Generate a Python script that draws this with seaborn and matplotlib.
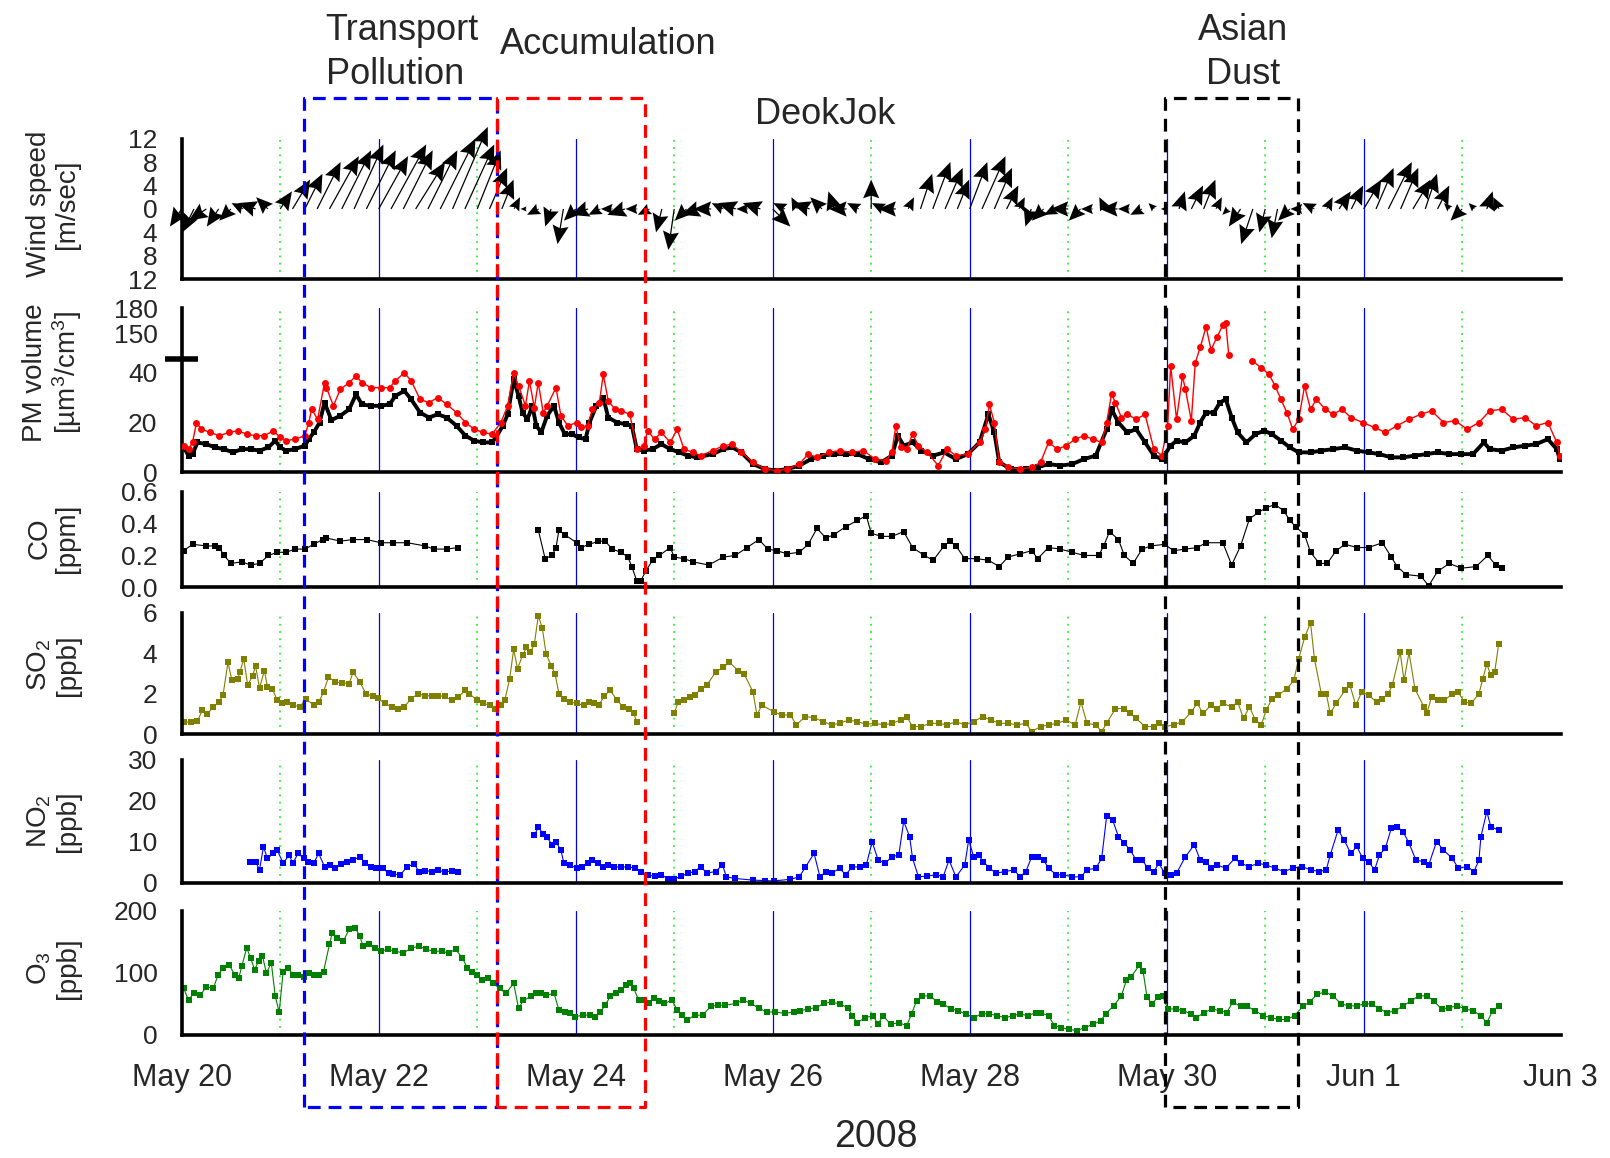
import numpy as np
import pandas as pd
import matplotlib
matplotlib.use("Agg")
import matplotlib.pyplot as plt
import seaborn as sns
from matplotlib.lines import Line2D
from matplotlib import transforms
from matplotlib.ticker import FixedLocator, FixedFormatter

sns.set_theme(style="white")
plt.rcParams['font.family'] = ['Liberation Sans', 'DejaVu Sans']
plt.rcParams['mathtext.fontset'] = 'custom'
plt.rcParams['mathtext.rm'] = 'Liberation Sans'
plt.rcParams['mathtext.it'] = 'Liberation Sans:italic'
plt.rcParams['mathtext.bf'] = 'Liberation Sans:bold'

NAN = np.nan
# ---------------- data (x = days since May 20, 2008 00:00) ----------------
date_ticks = [0, 2, 4, 6, 8, 10, 12, 14]
date_labels = ["May 20", "May 22", "May 24", "May 26", "May 28", "May 30", "Jun 1", "Jun 3"]

# wind, 3-hourly from May 20 00:00
wind_time = np.arange(108) * 0.125
wind_v = [-3, -4, -2, -3, -2, 1, 1, 2,
          3, 5, 6, 8, 9, 10, 11, 10,
          9, 11, 10, 8, 10, 12, 14, 11,
          10, 7, 5, 2, 0, -1, -3, -6,
          -2, -1, -1, 0, -1, 0, -1, -4,
          -7, -2, -1, 0, 1, 1, 0, 1,
          -3, 1, 2, 1, 2, 3, 0, 1,
          5, 1, 0, 2, 6, 8, 7, 5,
          8, 9, 7, 4, 2, -3, -2, -1,
          0, -2, 0, 2, 0, 0, -1, 1,
          0, 3, 4, 5, 2, -1, -3, -6,
          -4, -5, -2, 0, 1, 2, 3, 4,
          5, 7, 8, 7, 5, 6, 4, 1,
          -2, 1, 3, 2]
wind_u = [-2, -2, -3, -2, -2, -2, -3, -2,
          2, 3, 3, 4, 5, 5, 5, 5,
          5, 6, 5, 5, 5, 6, 6, 5,
          4, 3, 2, 1, -1, -2, -1, -1,
          -2, -3, -2, -2, -3, -2, -2, -1,
          -1, -2, -3, -3, -2, -3, -2, -3,
          3, -2, -1, -3, -2, -1, -3, -2,
          0, -2, -3, 1, 2, 3, 3, 2,
          3, 4, 3, 2, 1, -1, -2, -2,
          -3, -2, -2, -1, -3, -2, -2, -1,
          -1, 1, 2, 2, 1, -1, -2, -2,
          -1, -1, -2, -2, -2, 1, 2, 2,
          3, 3, 4, 3, 3, 2, 2, -1,
          -2, -1, 1, -1]

pm_black_day = [0.02, 0.07, 0.11, 0.16, 0.25, 0.34, 0.43, 0.52, 0.61, 0.70, 0.79, 0.88, 0.95, 1.00, 1.06, 1.15,
                1.25, 1.29, 1.34, 1.40, 1.45, 1.52, 1.61, 1.70, 1.77, 1.83, 1.92, 2.02, 2.11, 2.17, 2.26, 2.33,
                2.42, 2.51, 2.60, 2.69, 2.79, 2.88, 2.97, 3.06, 3.15, 3.19, 3.26, 3.31, 3.37, 3.42, 3.46, 3.51,
                3.56, 3.60, 3.65, 3.71, 3.78, 3.83, 3.89, 3.96, 4.03, 4.10, 4.14, 4.21, 4.28, 4.33, 4.42, 4.51,
                4.57, 4.62, 4.69, 4.78, 4.87, 4.96, 5.05, 5.14, 5.23, 5.39, 5.50, 5.59, 5.68, 5.80, 5.92, 6.04,
                6.15, 6.27, 6.39, 6.51, 6.62, 6.74, 6.86, 6.98, 7.10, 7.21, 7.27, 7.33, 7.42, 7.51, 7.63, 7.74,
                7.86, 7.98, 8.10, 8.19, 8.25, 8.30, 8.42, 8.57, 8.69, 8.80, 8.92, 9.04, 9.16, 9.28, 9.39, 9.44,
                9.51, 9.60, 9.69, 9.78, 9.87, 9.95, 10.04, 10.10, 10.19, 10.28, 10.34, 10.40, 10.48, 10.54, 10.60,
                10.66, 10.72, 10.81, 10.90, 10.99, 11.07, 11.16, 11.25, 11.34, 11.46, 11.57, 11.69, 11.81, 11.93,
                12.05, 12.16, 12.28, 12.40, 12.52, 12.64, 12.75, 12.87, 12.99, 13.11, 13.22, 13.28, 13.40, 13.52,
                13.64, 13.75, 13.87, 13.96, 13.99]
pm_black_val = [10, 6.7, 7.3, 12, 11.3, 10, 9.3, 8, 9.3, 9.3, 8.7, 10, 12.7, 10, 8.7, 9.3,
                10.7, 13.3, 16, 20, 28, 21, 22.7, 25.3, 31.3, 27.3, 26.7, 26.7, 27.3, 30.7, 32.7, 29.3,
                24, 22, 23.3, 22, 18.7, 14.7, 12.7, 12, 12, 14, 18.7, 23.3, 37.3, 30.7, 24, 21.3,
                26.7, 18.7, 16, 22.7, 26.7, 20, 15.3, 15.3, 14, 13.3, 20, 26.7, 30, 22, 20, 19.3,
                18.7, 9.3, 8.7, 9.3, 11.3, 9.3, 8, 6.7, 6, 7.3, 9.3, 10, 8, 3.3, 1.3, 0.7,
                1.3, 2.7, 5.3, 6.7, 7.3, 7.3, 7.3, 5.3, 4, 6.7, 14.7, 10.7, 12, 8.7, 6.7, 8,
                5.3, 7.3, 12, 23.3, 16, 4, 1.3, 1.3, 2, 3.3, 2.7, 3.3, 5.3, 6.7, 17.3, 25.3,
                20, 16, 17.3, 12, 6.7, 5.3, 10.7, 12.7, 12, 14.7, 20, 24, 24, 28, 29.3,
                22, 16, 12, 15.3, 16.7, 15.3, 12.7, 10, 8, 8, 8.7, 9.3, 10, 8.7,
                8, 7.3, 6, 6, 6.7, 7.3, 8, 7.3, 7.3, 7.3, 12, 9.3, 8.7, 10,
                10.7, 11.3, 13.3, 9.3, 5.3]

pm_red_day = [0.02, 0.07, 0.11, 0.15, 0.20, 0.29, 0.38, 0.48, 0.57, 0.66, 0.75, 0.84, 0.93, 1.00, 1.06, 1.15,
              1.25, 1.29, 1.32, 1.38, 1.45, 1.47, 1.54, 1.61, 1.70, 1.77, 1.83, 1.92, 2.02, 2.11, 2.17, 2.26,
              2.33, 2.42, 2.51, 2.60, 2.69, 2.79, 2.88, 2.97, 3.06, 3.15, 3.24, 3.31, 3.37, 3.42, 3.49, 3.53,
              3.58, 3.62, 3.67, 3.71, 3.80, 3.85, 3.92, 4.01, 4.05, 4.12, 4.17, 4.24, 4.28, 4.33, 4.40, 4.46,
              4.55, 4.62, 4.69, 4.73, 4.80, 4.87, 4.96, 5.03, 5.10, 5.19, 5.27, 5.39, 5.50, 5.59, 5.68, 5.80,
              5.92, 6.04, 6.15, 6.27, 6.36, 6.45, 6.57, 6.68, 6.80, 6.92, 7.04, 7.15, 7.21, 7.25, 7.30, 7.36,
              7.42, 7.48, 7.57, 7.68, 7.77, 7.86, 7.98, 8.10, 8.16, 8.20, 8.25, 8.30, 8.39, 8.51, 8.63, 8.72,
              8.80, 8.89, 8.98, 9.07, 9.16, 9.25, 9.34, 9.39, 9.44, 9.48, 9.54, 9.60, 9.69, 9.78, 9.87, 9.95,
              10.01, 10.04, 10.10, 10.16, 10.19, 10.25, 10.29, 10.34, 10.40, 10.45, 10.51, 10.57, 10.60, 10.63,
              NAN, 10.87, 10.96, 11.04, 11.10, 11.16, 11.22, 11.28, 11.34, 11.40, 11.46, 11.52, 11.61, 11.69,
              11.78, 11.87, 11.99, 12.11, 12.22, 12.34, 12.46, 12.58, 12.69, 12.81, 12.93, 13.05, 13.17, 13.28,
              13.40, 13.52, 13.64, 13.75, 13.87, 13.96, 13.99]
pm_red_val = [10.7, 9.3, 12, 20, 17.3, 16, 14.7, 16, 16.7, 15.3, 14.7, 14.7, 16.7, 14, 12.7, 13.3,
              14.7, 20, 25.3, 21.3, 36, 34, 26.7, 33.3, 36, 38.7, 36, 34, 34, 34, 36.7, 40,
              36.7, 29.3, 28, 30, 27.3, 24, 20, 17.3, 16, 15.3, 20, 26.7, 40, 34.7, 26.7, 36.7,
              26, 36, 24, 26.7, 34, 22.7, 18.7, 20, 18, 18.7, 25.3, 28, 39.3, 28.7, 25.3, 24.7,
              23.3, 9.3, 10.7, 16.7, 13.3, 16, 12, 17.3, 9.3, 8, 6.7, 8.7, 10.7, 11.3, 8, 4,
              1.3, 0.7, 1.3, 3.3, 7.3, 6, 8, 8.7, 8, 8.7, 5.3, 4.7, 8, 18.7, 10, 9.3,
              15.3, 10.7, 8, 2.7, 9.3, 6.7, 7.3, 12, 17.3, 27.3, 20, 4, 2, 1.3, 2, 4,
              12, 9.3, 10.7, 13.3, 14.7, 13.3, 12, 20, 31.3, 28, 22, 23.3, 21.3, 23.3, 9.3, 6.7,
              18.7, 42.7, 21.3, 38.7, 33.3, 20.7, 44, 134, 158, 131, 146, 160, 162, 125,
              NAN, 44.7, 42, 39.3, 34.7, 29.3, 24, 17.3, 21.3, 34.7, 25.3, 29.3, 25.3, 23.3,
              25.3, 22, 20, 18, 16, 18.7, 21.3, 23.3, 24.7, 20, 20.7, 17.3, 20, 24.7,
              25.3, 21.3, 22, 18.7, 20, 12, 6.7]

co_day = [0.02, 0.11, 0.25, 0.34, 0.38, 0.43, 0.50, 0.61, 0.70, 0.79, 0.88, 0.97, 1.06, 1.15, 1.25, 1.34,
          1.43, 1.47, 1.61, 1.74, 1.88, 2.02, 2.15, 2.29, 2.47, 2.56, 2.69, 2.81, NAN,
          3.62, 3.69, 3.76, 3.80, 3.83, 3.89, 4.01, 4.05, 4.14, 4.23, 4.30, 4.37, 4.46, 4.53, 4.57, 4.62,
          4.66, 4.71, 4.78, 4.85, 4.96, 5.00, 5.10, 5.19, 5.35, 5.50, 5.62, 5.74, 5.86, 5.95, 6.04, 6.15,
          6.27, 6.36, 6.45, 6.54, 6.62, 6.74, 6.86, 6.95, 7.00, 7.10, 7.21, 7.33, 7.42, 7.54, 7.63, 7.74,
          7.80, 7.86, 7.95, 8.07, 8.19, 8.30, 8.39, 8.51, 8.63, 8.69, 8.80, 8.92, 9.04, 9.16, 9.31, 9.36,
          9.42, 9.51, 9.57, 9.66, 9.75, 9.84, 9.98, 10.07, 10.19, 10.31, 10.40, 10.57, 10.66, 10.75, 10.84,
          10.93, 11.01, 11.10, 11.19, 11.25, 11.31, 11.40, 11.46, 11.55, 11.63, 11.72, 11.81, 11.93, 12.05,
          12.19, 12.28, 12.34, 12.43, 12.58, 12.66, 12.75, 12.87, 12.99, 13.14, 13.26, 13.34, 13.40]
co_val = [0.23, 0.27, 0.26, 0.26, 0.25, 0.20, 0.15, 0.16, 0.14, 0.15, 0.20, 0.22, 0.22, 0.24, 0.24, 0.27,
          0.30, 0.31, 0.29, 0.30, 0.30, 0.28, 0.28, 0.28, 0.26, 0.24, 0.24, 0.25, NAN,
          0.36, 0.18, 0.20, 0.25, 0.36, 0.33, 0.28, 0.25, 0.27, 0.29, 0.29, 0.24, 0.22, 0.19, 0.13, 0.04,
          0.04, 0.10, 0.17, 0.20, 0.25, 0.19, 0.18, 0.16, 0.14, 0.19, 0.20, 0.25, 0.30, 0.24, 0.23, 0.21,
          0.22, 0.27, 0.37, 0.31, 0.33, 0.38, 0.42, 0.45, 0.34, 0.32, 0.32, 0.35, 0.25, 0.20, 0.17, 0.26,
          0.29, 0.26, 0.18, 0.18, 0.17, 0.13, 0.19, 0.21, 0.23, 0.18, 0.25, 0.24, 0.22, 0.20, 0.20, 0.26,
          0.35, 0.30, 0.20, 0.15, 0.24, 0.26, 0.27, 0.23, 0.24, 0.25, 0.28, 0.28, 0.14, 0.26, 0.43,
          0.47, 0.50, 0.52, 0.48, 0.42, 0.38, 0.33, 0.22, 0.15, 0.15, 0.23, 0.27, 0.25, 0.25,
          0.28, 0.19, 0.13, 0.08, 0.07, 0.01, 0.10, 0.15, 0.12, 0.13, 0.20, 0.14, 0.12]

so2_day = [0.02, 0.09, 0.16, 0.21, 0.26, 0.32, 0.38, 0.42, 0.47, 0.51, 0.57, 0.59, 0.63, 0.67, 0.72, 0.75,
           0.79, 0.84, 0.87, 0.92, 0.97, 1.02, 1.07, 1.13, 1.20, 1.26, 1.34, 1.39, 1.44, 1.49, 1.56, 1.63,
           1.70, 1.74, 1.81, 1.87, 1.94, 1.99, 2.06, 2.13, 2.20, 2.26, 2.33, 2.40, 2.47, 2.54, 2.60, 2.67,
           2.74, 2.81, 2.88, 2.92, 3.00, 3.06, 3.13, 3.18, 3.24, 3.28, 3.33, 3.37, 3.41, 3.46, 3.50, 3.54,
           3.58, 3.62, 3.66, 3.70, 3.75, 3.79, 3.83, 3.88, 3.94, 4.01, 4.08, 4.13, 4.19, 4.24, 4.29, 4.35,
           4.42, 4.48, 4.54, 4.59, 4.62, NAN,
           5.00, 5.04, 5.10, 5.16, 5.21, 5.27, 5.33, 5.42, 5.50, 5.56, 5.65, 5.71, 5.80, 5.84, 5.89, 6.01,
           6.09, 6.18, 6.24, 6.33, 6.42, 6.51, 6.60, 6.68, 6.77, 6.86, 6.95, 7.04, 7.13, 7.21, 7.30, 7.36,
           7.42, 7.51, 7.60, 7.69, 7.77, 7.86, 7.95, 8.04, 8.13, 8.22, 8.30, 8.39, 8.48, 8.57, 8.63, 8.72,
           8.80, 8.89, 8.98, 9.07, 9.13, 9.19, 9.28, 9.34, 9.39, 9.48, 9.57, 9.63, 9.69, 9.78, 9.87, 9.92,
           9.98, 10.07, 10.16, 10.25, 10.31, 10.37, 10.45, 10.51, 10.57, 10.66, 10.72, 10.78, 10.84, 10.90,
           10.96, 11.01, 11.07, 11.13, 11.22, 11.29, 11.34, 11.40, 11.46, 11.50, 11.57, 11.62, 11.66, 11.72,
           11.81, 11.86, 11.92, 11.98, 12.05, 12.13, 12.19, 12.25, 12.29, 12.37, 12.41, 12.46, 12.52, 12.61,
           12.64, 12.69, 12.75, 12.82, 12.90, 12.96, 13.02, 13.09, 13.17, 13.21, 13.25, 13.29, 13.33, 13.37]
so2_val = [0.6, 0.6, 0.65, 1.2, 1.0, 1.35, 1.6, 1.96, 3.56, 2.66, 2.75, 3.07, 3.73, 2.42, 2.9, 3.37,
           2.29, 3.15, 2.34, 2.25, 1.68, 1.52, 1.6, 1.44, 1.36, 1.76, 1.44, 1.57, 2.09, 2.83, 2.58, 2.55,
           2.5, 3.07, 2.58, 2.0, 1.88, 1.8, 1.52, 1.36, 1.27, 1.36, 1.76, 2.0, 1.9, 1.9, 1.9, 1.88,
           1.68, 1.85, 2.17, 2.0, 1.68, 1.52, 1.44, 1.27, 1.44, 1.68, 2.75, 4.2, 3.24, 3.9, 4.3, 4.05,
           4.46, 5.85, 5.28, 3.97, 3.4, 2.99, 2.0, 1.73, 1.6, 1.52, 1.44, 1.6, 1.52, 1.47, 1.9, 2.17,
           1.68, 1.36, 1.27, 1.03, 0.59, NAN,
           1.03, 1.6, 1.68, 1.85, 1.93, 2.25, 2.42, 3.07, 3.32, 3.56, 3.15, 2.99, 2.09, 0.95, 1.44, 1.11,
           0.95, 0.95, 0.46, 0.87, 0.82, 0.62, 0.46, 0.54, 0.70, 0.62, 0.49, 0.54, 0.46, 0.54, 0.70, 0.87,
           0.38, 0.38, 0.54, 0.54, 0.46, 0.62, 0.46, 0.62, 0.87, 0.70, 0.54, 0.54, 0.46, 0.54, 0.13, 0.38,
           0.46, 0.54, 0.70, 0.46, 1.60, 0.54, 0.46, 0.13, 0.54, 1.27, 1.27, 1.03, 0.78, 0.38, 0.38, 0.54,
           0.38, 0.46, 0.62, 1.11, 1.52, 1.03, 1.44, 1.27, 1.52, 1.36, 1.60, 0.78, 1.36, 0.70,
           0.46, 1.19, 1.76, 1.93, 2.25, 2.66, 3.73, 4.79, 5.52, 3.73, 2.0, 2.0, 1.03, 1.52,
           2.17, 2.42, 1.44, 2.09, 1.93, 1.60, 1.76, 2.0, 2.42, 4.05, 2.66, 4.05, 2.25, 1.36,
           1.03, 1.85, 1.68, 1.68, 2.0, 2.09, 1.60, 1.52, 2.0, 2.75, 3.48, 2.91, 3.07, 4.46]

no2_day = [0.69, 0.75, 0.79, 0.83, 0.87, 0.93, 0.97, 1.03, 1.09, 1.13, 1.18, 1.24, 1.28, 1.34, 1.39, 1.45,
           1.51, 1.56, 1.62, 1.68, 1.74, 1.81, 1.86, 1.92, 1.97, 2.04, 2.10, 2.15, 2.22, 2.29, 2.36, 2.41,
           2.47, 2.54, 2.60, 2.67, 2.74, 2.81, NAN,
           3.58, 3.62, 3.67, 3.71, 3.76, 3.80, 3.85, 3.88, 3.94, 4.01, 4.06, 4.12, 4.17, 4.23, 4.28, 4.33,
           4.39, 4.46, 4.53, 4.60, 4.66, 4.73, 4.80, 4.87, 4.94, 5.00, 5.07, 5.14, 5.21, 5.27, 5.33, 5.42,
           5.49, 5.53, 5.62, 5.80, 5.92, 6.01, 6.18, 6.27, 6.33, 6.42, 6.48, 6.54, 6.60, 6.68, 6.74, 6.81,
           6.89, 6.95, 7.01, 7.07, 7.14, 7.21, 7.28, 7.33, 7.39, 7.42, 7.48, 7.57, 7.66, 7.73, 7.79, 7.86,
           7.95, 7.99, 8.04, 8.09, 8.14, 8.20, 8.27, 8.36, 8.45, 8.51, 8.57, 8.63, 8.69, 8.75, 8.80, 8.88,
           8.95, 9.04, 9.13, 9.19, 9.28, 9.34, 9.39, 9.45, 9.51, 9.57, 9.63, 9.69, 9.75, 9.81, 9.87, 9.92,
           9.98, 10.04, 10.10, 10.19, 10.28, 10.34, 10.40, 10.45, 10.51, 10.60, 10.69, 10.75, 10.84, 10.93,
           11.01, 11.10, 11.19, 11.28, 11.37, 11.46, 11.55, 11.62, 11.66, 11.74, 11.80, 11.87, 11.93, 11.99,
           12.05, 12.11, 12.16, 12.22, 12.28, 12.34, 12.40, 12.46, 12.53, 12.61, 12.66, 12.74, 12.81, 12.90,
           12.96, 13.05, 13.12, 13.17, 13.19, 13.25, 13.29, 13.37]
no2_val = [5.2, 5.2, 3.2, 8.8, 6.0, 7.2, 8.0, 4.8, 6.8, 4.8, 7.2, 6.0, 5.2, 4.8, 7.2, 4.0,
           4.4, 3.6, 4.6, 5.2, 5.6, 6.4, 4.8, 4.0, 3.6, 3.6, 2.4, 2.2, 2.0, 4.0, 4.6, 2.8,
           3.0, 2.8, 3.2, 2.6, 3.0, 2.6, NAN,
           11.6, 13.6, 12.0, 11.2, 9.2, 10.0, 8.0, 4.8, 4.4, 3.6, 4.0, 4.8, 5.6, 4.8, 4.0, 4.4,
           4.0, 3.8, 4.0, 3.6, 2.8, 2.0, 1.6, 2.0, 1.0, 1.0, 1.6, 2.4, 2.8, 4.0, 2.4, 2.8,
           4.4, 1.5, 1.1, 0.7, 0.6, 0.5, 0.9, 1.5, 3.8, 7.2, 1.5, 2.8, 2.4, 3.6, 2.0, 4.0,
           3.8, 4.4, 10.0, 5.6, 4.8, 6.4, 6.8, 15.0, 11.3, 6.0, 1.5, 1.7, 2.0, 1.5, 5.6, 1.5,
           4.4, 10.5, 6.4, 6.8, 5.2, 3.6, 2.4, 2.8, 3.2, 1.5, 2.8, 6.4, 6.4, 5.6, 3.6, 2.0,
           2.0, 1.5, 1.5, 3.2, 3.6, 6.0, 16.2, 15.4, 11.3, 9.7, 8.0, 5.6, 5.6, 3.6, 2.8, 4.8,
           2.4, 2.0, 2.4, 6.4, 9.3, 5.6, 5.2, 3.6, 4.4, 3.6, 6.0, 4.8, 4.0, 4.8,
           4.4, 3.6, 2.8, 3.6, 4.0, 3.2, 2.8, 3.2, 6.8, 12.9, 10.5, 7.2, 8.9, 6.0,
           5.2, 3.2, 6.8, 8.5, 13.3, 13.7, 12.5, 9.7, 5.6, 5.2, 4.4, 10.1, 8.0, 6.0,
           3.6, 4.0, 2.8, 5.6, 11.3, 17.4, 13.7, 12.9]

o3_day = [0.02, 0.07, 0.12, 0.19, 0.25, 0.32, 0.37, 0.42, 0.48, 0.54, 0.58, 0.61, 0.66, 0.70, 0.74, 0.78,
          0.82, 0.86, 0.91, 0.95, 0.99, 1.03, 1.08, 1.13, 1.18, 1.24, 1.29, 1.34, 1.39, 1.44, 1.50, 1.53,
          1.58, 1.64, 1.70, 1.76, 1.81, 1.84, 1.90, 1.96, 2.02, 2.09, 2.17, 2.25, 2.33, 2.41, 2.48, 2.56,
          2.64, 2.71, 2.78, 2.85, 2.90, 2.95, 3.00, 3.05, 3.11, 3.16, 3.23, 3.29, 3.37, 3.42, 3.47, 3.55,
          3.60, 3.65, 3.70, 3.78, 3.83, 3.89, 3.94, 3.99, 4.07, 4.15, 4.20, 4.25, 4.30, 4.35, 4.41, 4.46,
          4.51, 4.55, 4.59, 4.64, 4.69, 4.74, 4.79, 4.85, 4.90, 4.98, 5.03, 5.08, 5.13, 5.21, 5.29, 5.37,
          5.44, 5.52, 5.63, 5.70, 5.78, 5.86, 5.94, 6.02, 6.12, 6.22, 6.28, 6.36, 6.44, 6.52, 6.60, 6.68,
          6.76, 6.81, 6.86, 6.94, 7.02, 7.07, 7.12, 7.20, 7.28, 7.36, 7.41, 7.46, 7.52, 7.60, 7.67, 7.73,
          7.81, 7.88, 7.96, 8.04, 8.12, 8.20, 8.28, 8.36, 8.44, 8.51, 8.59, 8.67, 8.72, 8.80, 8.86, 8.93,
          9.01, 9.09, 9.17, 9.25, 9.33, 9.38, 9.46, 9.54, 9.59, 9.64, 9.72, 9.76, 9.80, 9.85, 9.91, 9.96,
          10.01, 10.09, 10.17, 10.25, 10.30, 10.38, 10.46, 10.54, 10.61, 10.67, 10.75, 10.82, 10.90, 10.98,
          11.06, 11.14, 11.22, 11.30, 11.38, 11.45, 11.53, 11.61, 11.69, 11.77, 11.85, 11.93, 12.01, 12.08,
          12.16, 12.24, 12.32, 12.40, 12.48, 12.56, 12.64, 12.71, 12.79, 12.87, 12.95, 13.03, 13.11, 13.19,
          13.25, 13.31, 13.37]
o3_val = [75, 56, 67, 64, 78, 75, 97, 108, 113, 97, 92, 111, 140, 124, 105, 119,
          127, 100, 116, 62, 37, 102, 108, 97, 97, 94, 100, 97, 97, 102, 146, 165,
          157, 151, 170, 173, 159, 143, 146, 140, 135, 138, 135, 132, 140, 143, 138, 135,
          135, 132, 138, 124, 108, 102, 97, 89, 92, 83, 75, 67, 83, 43, 56, 62,
          67, 68, 64, 67, 40, 37, 35, 29, 32, 32, 29, 37, 48, 62, 67, 73,
          81, 83, 75, 56, 56, 51, 59, 54, 51, 56, 40, 32, 24, 32, 32, 46,
          48, 48, 51, 56, 51, 43, 37, 37, 35, 37, 39, 42, 44, 51, 53, 50,
          44, 31, 20, 28, 31, 17, 31, 17, 20, 15, 34, 55, 63, 63, 53, 50,
          42, 39, 34, 28, 34, 34, 31, 28, 31, 34, 31, 36, 36, 31, 15, 12,
          9, 7, 12, 17, 23, 34, 47, 63, 88, 94, 112, 103, 61, 50, 61, 63,
          42, 42, 39, 34, 28, 36, 42, 39, 36, 53, 46, 46, 39, 31,
          28, 25, 25, 31, 46, 53, 66, 69, 63, 50, 47, 47, 50, 50,
          42, 36, 39, 47, 55, 63, 63, 55, 42, 44, 47, 42, 39, 31,
          20, 39, 47]

# event periods (days since May 20)
transport_period = (1.24, 3.20)
accumulation_period = (3.20, 4.70)
dust_period = (9.98, 11.33)

# ---------------- figure ----------------
W, H = 1610, 1158
fig = plt.figure(figsize=(W / 100, H / 100), dpi=100)

left_px, right_px = 181.7, 1560.7
panels_px = {  # top, bottom in pixels
    'wind': (138.6, 279.3), 'pm': (308.0, 472.3), 'co': (491.8, 587.3),
    'so2': (613.0, 734.2), 'no2': (759.8, 883.0), 'o3': (910.8, 1035.0)}


def make_ax(key):
    t, b = panels_px[key]
    return fig.add_axes([left_px / W, 1 - b / H, (right_px - left_px) / W, (b - t) / H])


axes = {k: make_ax(k) for k in panels_px}

TICK_FS = 19


def style_ax(ax, bottom=False):
    sns.despine(ax=ax, top=True, right=True)
    for s in ['left', 'bottom']:
        ax.spines[s].set_linewidth(2.6)
        ax.spines[s].set_color('black')
    ax.set_xlim(0, 14)
    ax.set_xticks(date_ticks)
    ax.set_xticks(list(range(1, 14, 2)), minor=True)
    ax.tick_params(axis='x', which='major', direction='out', length=11.5, width=2.2, color='black')
    ax.tick_params(axis='x', which='minor', direction='out', length=6, width=2.2, color='black')
    ax.tick_params(axis='y', which='major', direction='out', length=11.5, width=2.0, color='black',
                   labelsize=TICK_FS, pad=6)
    ax.tick_params(axis='y', which='minor', direction='out', length=6, width=2.0, color='black')
    if bottom:
        ax.set_xticklabels(date_labels, fontsize=22)
        ax.tick_params(axis='x', which='major', pad=9)
    else:
        ax.set_xticklabels([])
    ax.set_xlabel('')
    ax.set_ylabel('')
    ax.patch.set_alpha(0)
    for d in range(1, 14):
        if d % 2 == 0:
            ax.axvline(d, color='#0000ff', lw=0.9, zorder=0)
        else:
            ax.axvline(d, color='#33ee33', lw=1.3, ls=(0, (1, 3)), zorder=0)


def plot_series(ax, days, vals, color, marker, ms, lw, z=2):
    df = pd.DataFrame({'day': days, 'val': vals})
    ok = df['val'].notna()
    seg = (~ok).cumsum()
    for _, g in df[ok].groupby(seg[ok]):
        sns.lineplot(data=g, x='day', y='val', ax=ax, color=color, marker=marker, markersize=ms,
                     markeredgewidth=0, linewidth=lw, estimator=None, sort=False, legend=False,
                     zorder=z)


# ---- wind ----
ax = axes['wind']
kx = 0.0596  # days per m/s on the horizontal
ax.quiver(wind_time, np.zeros(len(wind_time)), np.array(wind_u) * kx, np.array(wind_v),
          angles='xy', scale_units='xy', scale=1, width=0.0009, headwidth=13, headlength=15,
          headaxislength=13, color='black', clip_on=False, zorder=3)
ax.set_ylim(-12, 12)
ax.yaxis.set_major_locator(FixedLocator([-12, -8, -4, 0, 4, 8, 12]))
ax.yaxis.set_major_formatter(FixedFormatter(['12', '8', '4', '0', '4', '8', '12']))
ax.yaxis.set_minor_locator(FixedLocator([-10, -6, -2, 2, 6, 10]))
style_ax(ax)

# ---- PM (broken axis) ----
ax = axes['pm']
bk_in = [-100, 0, 45, 120, 180, 400]
bk_out = [-242.5, 0, 109.1, 110.0, 160.0, 343.3]


def fwd(y):
    return np.interp(y, bk_in, bk_out)


def inv(y):
    return np.interp(y, bk_out, bk_in)


ax.set_yscale('function', functions=(fwd, inv))
plot_series(ax, pm_black_day, pm_black_val, 'black', 's', 5, 2.8, z=2)
plot_series(ax, pm_red_day, pm_red_val, '#ff0000', 'o', 5, 1.0, z=3)
ax.set_ylim(0, 180)
ax.yaxis.set_major_locator(FixedLocator([0, 20, 40, 150, 180]))
ax.yaxis.set_major_formatter(FixedFormatter(['0', '20', '40', '150', '180']))
ax.yaxis.set_minor_locator(FixedLocator([10, 30, 135, 165]))
style_ax(ax)
ax.add_line(Line2D([-0.012, 0.012], [0.69, 0.69], transform=ax.transAxes, color='black', lw=4,
                   clip_on=False, solid_capstyle='butt', zorder=5))

# ---- CO ----
ax = axes['co']
plot_series(ax, co_day, co_val, 'black', 's', 4.5, 0.8)
ax.set_ylim(0, 0.6)
ax.yaxis.set_major_locator(FixedLocator([0, 0.2, 0.4, 0.6]))
ax.yaxis.set_major_formatter(FixedFormatter(['0.0', '0.2', '0.4', '0.6']))
ax.yaxis.set_minor_locator(FixedLocator([0.1, 0.3, 0.5]))
style_ax(ax)

# ---- SO2 ----
ax = axes['so2']
plot_series(ax, so2_day, so2_val, '#808000', 's', 4.5, 0.8)
ax.set_ylim(0, 6)
ax.yaxis.set_major_locator(FixedLocator([0, 2, 4, 6]))
ax.yaxis.set_major_formatter(FixedFormatter(['0', '2', '4', '6']))
ax.yaxis.set_minor_locator(FixedLocator([1, 3, 5]))
style_ax(ax)

# ---- NO2 ----
ax = axes['no2']
plot_series(ax, no2_day, no2_val, '#0000ff', 's', 4.5, 0.8)
ax.set_ylim(0, 30)
ax.yaxis.set_major_locator(FixedLocator([0, 10, 20, 30]))
ax.yaxis.set_major_formatter(FixedFormatter(['0', '10', '20', '30']))
ax.yaxis.set_minor_locator(FixedLocator([5, 15, 25]))
style_ax(ax)

# ---- O3 ----
ax = axes['o3']
plot_series(ax, o3_day, o3_val, '#008000', 's', 4.5, 0.8)
ax.set_ylim(0, 200)
ax.yaxis.set_major_locator(FixedLocator([0, 100, 200]))
ax.yaxis.set_major_formatter(FixedFormatter(['0', '100', '200']))
ax.yaxis.set_minor_locator(FixedLocator([50, 150]))
style_ax(ax, bottom=True)

# ---- y labels ----
ylabels = [('Wind speed\n[m/sec]', 0.8238), ('PM volume\n[µm$^3$/cm$^3$]', 0.678),
           ('CO\n[ppm]', 0.535), ('SO$_2$\n[ppb]', 0.4256), ('NO$_2$\n[ppb]', 0.2907),
           ('O$_3$\n[ppb]', 0.164)]
for txt, yc in ylabels:
    fig.text(0.033, yc, txt, rotation=90, ha='center', va='center', fontsize=20,
             multialignment='center', linespacing=1.1)

# ---- event boxes ----
trans = transforms.blended_transform_factory(axes['o3'].transData, fig.transFigure)
y_top, y_bot = 1 - 97.5 / H, 1 - 1107 / H


def box(period, color):
    x0, x1 = period
    fig.add_artist(Line2D([x0, x0, x1, x1, x0], [y_bot, y_top, y_top, y_bot, y_bot], transform=trans,
                          color=color, lw=2.3, ls=(0, (4, 2.5)), zorder=10))


box(transport_period, '#0000ff')
box(accumulation_period, '#ff0000')
box(dust_period, 'black')

# ---- annotations ----
fig.text(325.5 / W, 1 - 31 / H, 'Transport', fontsize=26, ha='left', va='center')
fig.text(325.5 / W, 1 - 74 / H, 'Pollution', fontsize=26, ha='left', va='center')
fig.text(500 / W, 1 - 44 / H, 'Accumulation', fontsize=26, ha='left', va='center')
fig.text(825.5 / W, 1 - 114 / H, 'DeokJok', fontsize=26, ha='center', va='center')
fig.text(1243 / W, 1 - 31 / H, 'Asian', fontsize=26, ha='center', va='center')
fig.text(1243 / W, 1 - 74 / H, 'Dust', fontsize=26, ha='center', va='center')
fig.text(876 / W, 1 - 1137 / H, '2008', fontsize=27, ha='center', va='center')

fig.savefig('out.png', dpi=100)
